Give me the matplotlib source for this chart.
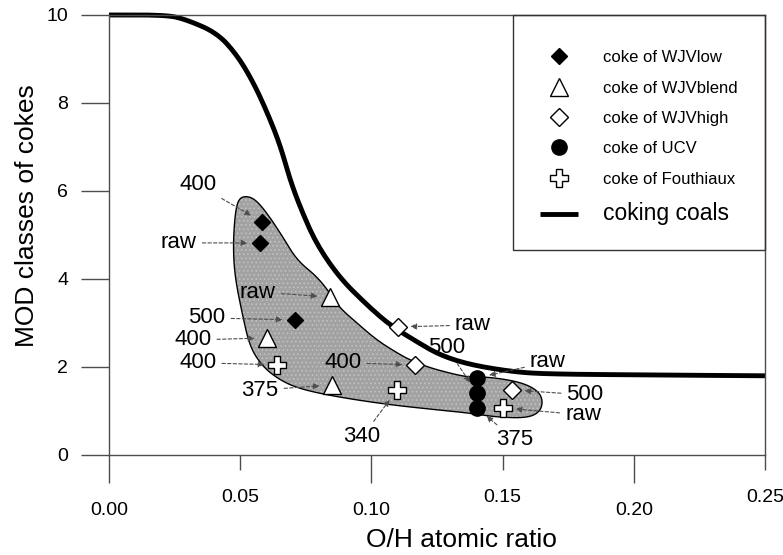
import numpy as np
import matplotlib.pyplot as plt
from matplotlib.patches import Rectangle

plt.rcParams['font.family'] = ['Liberation Sans', 'DejaVu Sans']
plt.rcParams['hatch.linewidth'] = 0.6

# coking coals band (MOD class vs O/H)
coal_x = [0.0, 0.0221, 0.0297, 0.0412, 0.0488, 0.0549, 0.0602, 0.0652, 0.0690,
          0.0736, 0.0793, 0.0880, 0.0983, 0.1071, 0.1174, 0.1261, 0.1376, 0.1540,
          0.1669, 0.2024, 0.25]
coal_y = [10.0, 10.0, 9.89, 9.59, 9.09, 8.48, 7.80, 7.05, 6.25,
          5.52, 4.77, 4.02, 3.41, 2.95, 2.57, 2.27, 2.05, 1.89,
          1.84, 1.82, 1.80]

# shaded domain of the cokes (outline)
region_x = [0.0480, 0.0492, 0.0518, 0.0556, 0.0602, 0.0663, 0.0716, 0.0793, 0.0842,
            0.0880, 0.0945, 0.1021, 0.1098, 0.1147, 0.1223, 0.1326, 0.1376, 0.1452,
            0.1566, 0.1631, 0.1654, 0.1643, 0.1593, 0.1479, 0.1376, 0.1261, 0.1071,
            0.0869, 0.0728, 0.0652, 0.0587, 0.0537, 0.0507, 0.0480, 0.0473]
region_y = [5.45, 5.80, 5.89, 5.82, 5.50, 4.95, 4.43, 4.05, 3.68,
            3.34, 3.00, 2.61, 2.32, 2.16, 1.98, 1.82, 1.77, 1.77,
            1.66, 1.48, 1.25, 0.98, 0.84, 0.86, 0.95, 1.02, 1.14,
            1.32, 1.50, 1.70, 2.00, 2.45, 3.23, 4.05, 4.73]

wjvlow_x = [0.0583, 0.0575, 0.0709]
wjvlow_y = [5.30, 4.82, 3.07]
wjvlow_lab = ['400', 'raw', '500']

wjvblend_x = [0.0842, 0.0602, 0.0850]
wjvblend_y = [3.59, 2.66, 1.59]
wjvblend_lab = ['raw', '400', '375']

wjvhigh_x = [0.1101, 0.1166, 0.1536]
wjvhigh_y = [2.91, 2.05, 1.48]
wjvhigh_lab = ['raw', '400', '500']

ucv_x = [0.1402, 0.1402, 0.1402]
ucv_y = [1.75, 1.41, 1.07]
ucv_lab = ['raw', '500', '375']

fouth_x = [0.0640, 0.1098, 0.1502]
fouth_y = [2.05, 1.48, 1.07]
fouth_lab = ['400', '340', 'raw']


def chaikin(x, y, n=3, closed=False):
    p = np.column_stack([x, y])
    for _ in range(n):
        a = p if closed else p[:-1]
        b = np.roll(p, -1, axis=0) if closed else p[1:]
        q = np.empty((2 * len(a), 2))
        q[0::2] = 0.75 * a + 0.25 * b
        q[1::2] = 0.25 * a + 0.75 * b
        if not closed:
            q = np.vstack([p[0], q, p[-1]])
        p = q
    return p[:, 0], p[:, 1]


fig = plt.figure(figsize=(7.83, 5.55), dpi=100)
ax = fig.add_axes([0.1392, 0.1802, 0.8378, 0.7928])

# shaded region: dotted grey fill + black outline
rx, ry = chaikin(region_x, region_y, 3, closed=True)
ax.fill(rx, ry, facecolor='#a2a2a2', edgecolor='#c4c4c4', hatch='....', lw=0, zorder=1)
ax.fill(rx, ry, fill=False, edgecolor='k', lw=1.0, zorder=1.5)

cx, cy = chaikin(coal_x, coal_y, 3)
coal_line, = ax.plot(cx, cy, color='k', lw=3.5, solid_capstyle='butt',
                     clip_on=False, zorder=2, label='coking coals')

series = [
    (wjvlow_x, wjvlow_y, wjvlow_lab, 'coke of WJVlow',
     dict(marker='D', ms=8.5, mfc='k', mec='k')),
    (wjvblend_x, wjvblend_y, wjvblend_lab, 'coke of WJVblend',
     dict(marker='^', ms=13, mfc='w', mec='k')),
    (wjvhigh_x, wjvhigh_y, wjvhigh_lab, 'coke of WJVhigh',
     dict(marker='D', ms=9, mfc='w', mec='k')),
    (ucv_x, ucv_y, ucv_lab, 'coke of UCV',
     dict(marker='o', ms=11, mfc='k', mec='k')),
    (fouth_x, fouth_y, fouth_lab, 'coke of Fouthiaux',
     dict(marker='P', ms=12.5, mfc='w', mec='k')),
]

# label offsets (pixels) from each point
offsets = [
    [(-64, 37), (-81, 0), (-88, 2)],
    [(-72, 5), (-74, -2), (-72, -5)],
    [(75, 2), (-72, 2), (73, -5)],
    [(71, 16), (-30, 45), (38, -32)],
    [(-79, 2), (-35, -47), (80, -7)],
]

handles = []
for (xs, ys, labs, name, style), offs in zip(series, offsets):
    h, = ax.plot(xs, ys, ls='none', mew=1.0, zorder=3, label=name, **style)
    handles.append(h)
    for x, y, lab, off in zip(xs, ys, labs, offs):
        ax.annotate(lab, xy=(x, y), xytext=off, textcoords='offset pixels',
                    ha='center', va='center', fontsize=16, zorder=4,
                    arrowprops=dict(arrowstyle='-|>', ls=(0, (3, 2)), lw=0.8,
                                    color='0.3', shrinkA=2, shrinkB=9,
                                    mutation_scale=9))
handles.append(coal_line)

ax.set_xlim(0, 0.25)
ax.set_ylim(0, 10)

ax.set_xticks([0.0, 0.10, 0.20], ['0.00', '0.10', '0.20'])
ax.set_xticks([0.05, 0.15, 0.25], ['0.05', '0.15', '0.25'], minor=True)
ax.set_yticks([0, 2, 4, 6, 8, 10])
ax.tick_params(axis='x', which='major', length=20, pad=14, width=1,
               color='0.3', labelsize=14)
ax.tick_params(axis='x', which='minor', length=11, pad=13.5, width=1,
               color='0.3', labelsize=14)
ax.tick_params(axis='y', length=20, pad=9.5, width=1, color='0.3', labelsize=14)
for s in ax.spines.values():
    s.set_color('0.3')
    s.set_linewidth(1.0)

ax.set_xlabel('O/H atomic ratio', fontsize=19)
ax.set_ylabel('MOD classes of cokes', fontsize=19)
ax.xaxis.set_label_coords(0.537, -0.166)
ax.yaxis.set_label_coords(-0.107, 0.543)

# legend box
ax.add_patch(Rectangle((0.616, 0.466), 0.384, 0.534, transform=ax.transAxes,
                       fill=False, edgecolor='0.2', lw=1.0, clip_on=False, zorder=5))
leg = ax.legend(handles=handles, loc='upper left', bbox_to_anchor=(0.657, 0.920),
                borderaxespad=0, borderpad=0, frameon=False, fontsize=12,
                handlelength=2.3, handletextpad=1.5, labelspacing=0.92, numpoints=1)
leg.get_texts()[-1].set_fontsize(16.5)

fig.savefig('out.png', dpi=100)
